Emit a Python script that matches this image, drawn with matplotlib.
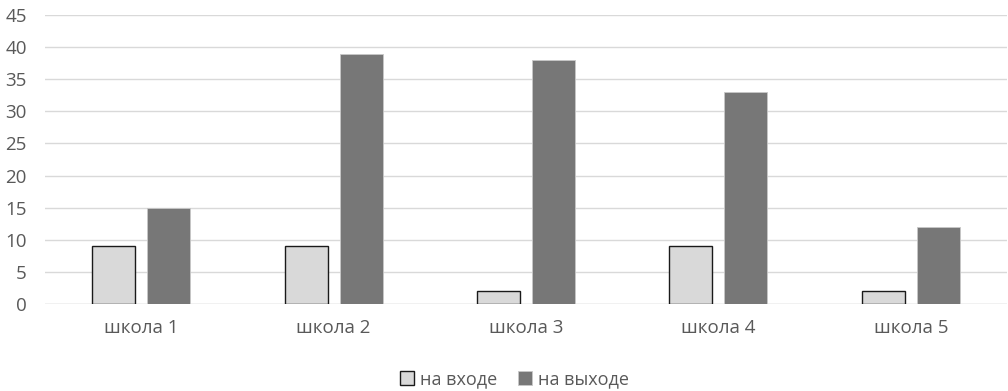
import matplotlib
matplotlib.use("Agg")
import matplotlib.pyplot as plt
import numpy as np

categories = ["школа 1", "школа 2", "школа 3", "школа 4", "школа 5"]
entry_values = [9, 9, 2, 9, 2]
exit_values = [15, 39, 38, 33, 12]
series_names = ["на входе", "на выходе"]
y_ticks = [0, 5, 10, 15, 20, 25, 30, 35, 40, 45]

plt.rcParams["font.family"] = ["Open Sans", "DejaVu Sans"]

fig = plt.figure(figsize=(10.08, 3.91), dpi=100)
ax = fig.add_axes([45 / 1008, 87 / 391, 962 / 1008, 289 / 391])

x = np.arange(len(categories))
width = 0.223
offset = 0.143
ax.bar(x - offset, entry_values, width, color="#d9d9d9", edgecolor="#1a1a1a",
       linewidth=1.0, label=series_names[0], zorder=3)
ax.bar(x + offset, exit_values, width, color="#777777", edgecolor="#c8c8c8",
       linewidth=0.6, label=series_names[1], zorder=3)

ax.set_xlim(-0.5, len(categories) - 0.5)
ax.set_ylim(0, 45)
ax.set_yticks(y_ticks)
ax.set_xticks(x)
ax.set_xticklabels(categories)
ax.yaxis.grid(True, color="#d9d9d9", linewidth=1.0, zorder=0)
ax.set_axisbelow(True)
for side in ["top", "right", "left", "bottom"]:
    ax.spines[side].set_visible(False)
ax.axhline(0, color="#d9d9d9", linewidth=1.0, zorder=1)
ax.tick_params(axis="both", length=0, labelsize=13.5, labelcolor="#595959")
ax.tick_params(axis="y", pad=13)
ax.tick_params(axis="x", pad=11)

leg = ax.legend(loc="upper center", bbox_to_anchor=(0.488, -0.205), ncol=2,
                frameon=False, fontsize=13, handlelength=0.8, handleheight=0.8,
                handletextpad=0.35, columnspacing=1.1, labelcolor="#595959",
                borderaxespad=0)

fig.savefig("out.png", dpi=100, facecolor="white")
